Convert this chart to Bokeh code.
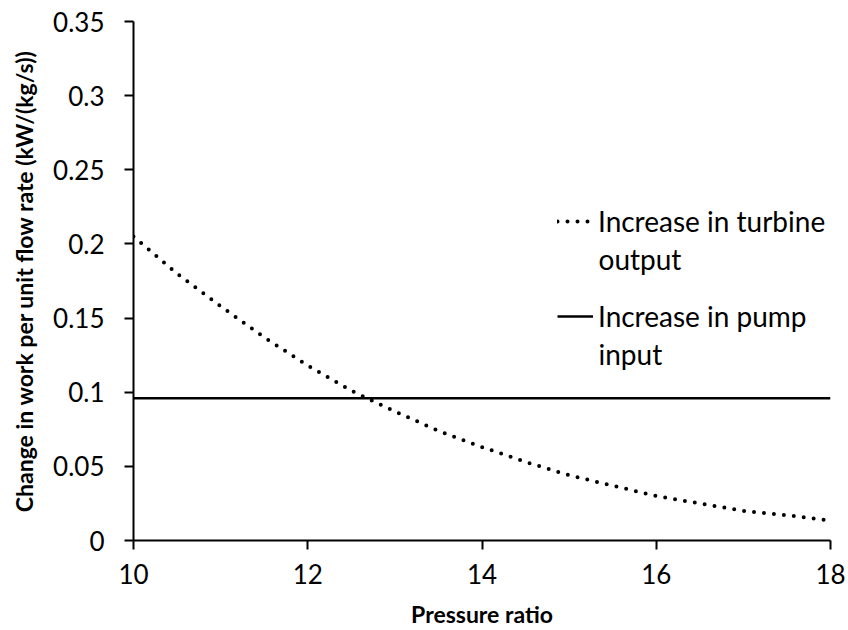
from bokeh.plotting import figure
from bokeh.models import Range1d, FixedTicker, Legend, LegendItem, Label
from bokeh.embed import file_html
from bokeh.resources import INLINE

# ---- data ----
pressure_ratio = [10, 10.5, 11, 11.5, 12, 12.5, 13, 13.5, 14, 14.5, 15, 15.5, 16, 16.5, 17, 17.5, 18]
turbine_output = [0.205, 0.180, 0.158, 0.137, 0.118, 0.101, 0.087, 0.074, 0.063, 0.053,
                  0.044, 0.037, 0.030, 0.025, 0.020, 0.017, 0.0135]
pump_x = [10, 18]
pump_input = [0.096, 0.096]

x_ticks = [10, 12, 14, 16, 18]
y_ticks = [0, 0.05, 0.1, 0.15, 0.2, 0.25, 0.3, 0.35]
y_tick_labels = ["0", "0.05", "0.1", "0.15", "0.2", "0.25", "0.3", "0.35"]

legend_line1 = ["Increase in turbine", "Increase in pump"]
legend_line2 = ["output", "input"]

FONT = "Lato"

p = figure(width=848, height=630, output_backend="svg", toolbar_location=None,
           x_range=Range1d(10, 18), y_range=Range1d(0, 0.35))
p.min_border_left = 133
p.min_border_right = 18
p.min_border_top = 21
p.min_border_bottom = 89
p.outline_line_color = None
p.background_fill_color = "white"
p.border_fill_color = "white"
p.xgrid.grid_line_color = None
p.ygrid.grid_line_color = None

r1 = p.line(pressure_ratio, turbine_output, line_color="black", line_width=4,
            line_dash="0 10", line_cap="round")
r2 = p.line(pump_x, pump_input, line_color="black", line_width=2.5)

for ax in (p.xaxis[0], p.yaxis[0]):
    ax.axis_line_color = "black"
    ax.axis_line_width = 2
    ax.major_tick_line_color = "black"
    ax.major_tick_line_width = 2
    ax.major_tick_out = 9
    ax.major_tick_in = 0
    ax.minor_tick_line_color = None
    ax.major_label_text_font = FONT
    ax.major_label_text_font_size = "26px"
    ax.major_label_text_color = "black"
    ax.axis_label_text_font = FONT
    ax.axis_label_text_font_style = "bold"
    ax.axis_label_text_font_size = "23px"
    ax.axis_label_text_color = "black"

p.xaxis.ticker = FixedTicker(ticks=x_ticks)
p.yaxis.ticker = FixedTicker(ticks=y_ticks)
p.yaxis.major_label_overrides = {t: l for t, l in zip(y_ticks, y_tick_labels)}
p.xaxis.axis_label = "Pressure ratio"
p.yaxis.axis_label = "Change in work per unit flow rate (kW/(kg/s))"
p.xaxis.major_label_standoff = 14
p.yaxis.major_label_standoff = 20
p.xaxis.axis_label_standoff = 13
p.yaxis.axis_label_standoff = 12

LINE_H = 38
legend = Legend(items=[LegendItem(label=legend_line1[0], renderers=[r1]),
                       LegendItem(label=legend_line1[1], renderers=[r2])],
                location=(424, 205))
legend.border_line_color = None
legend.background_fill_alpha = 0
legend.label_text_font = FONT
legend.label_text_font_size = "28px"
legend.label_text_color = "black"
legend.label_height = LINE_H
legend.glyph_height = LINE_H
legend.glyph_width = 36
legend.label_standoff = 5
legend.spacing = LINE_H + 19
legend.padding = 0
legend.margin = 0
p.add_layout(legend)

for txt, ypos in zip(legend_line2, [282, 187]):
    p.add_layout(Label(x=465, y=ypos, x_units="screen", y_units="screen", text=txt,
                       text_font=FONT, text_font_size="28px", text_color="black",
                       text_baseline="middle", text_align="left"))

open("out.html", "w").write(file_html(p, INLINE))
